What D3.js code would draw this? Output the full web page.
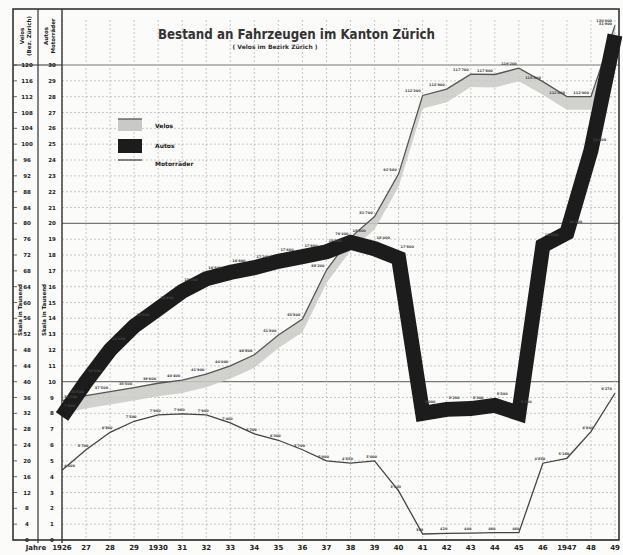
<!DOCTYPE html>
<html>
<head>
<meta charset="utf-8">
<script src="https://cdn.jsdelivr.net/npm/d3@7"></script>
<style>
  body { margin: 0; background: #fff; }
  svg { font-family: "DejaVu Sans", sans-serif; }
</style>
</head>
<body>
<div id="chart"></div>
<script>
// years on the x axis
const years = d3.range(1926, 1950);
const yearLabels = ['1926', '27', '28', '29', '1930', '31', '32', '33', '34', '35', '36', '37',
  '38', '39', '40', '41', '42', '43', '44', '45', '46', '1947', '48', '49'];

// Velos (Bezirk Zürich), in thousands, left scale
const velos = [35.2, 36.5, 37.5, 38.5, 39.6, 40.4, 41.9, 44, 46.8, 51.8, 55.8, 68.2,
  76.4, 81.7, 92.5, 112.3, 113.9, 117.7, 117.6, 119.2, 115.8, 112, 112, 130];

// Autos, in thousands, right scale
const autos = [7.8, 10.0, 12.0, 13.5, 14.6, 15.7, 16.5, 16.9, 17.2, 17.6, 17.9, 18.2,
  18.8, 18.4, 17.8, 8.0, 8.25, 8.3, 8.5, 8.0, 18.6, 19.4, 24.6, 31.9];

// Motorräder, in thousands, right scale
const motos = [4.4, 5.7, 6.8, 7.5, 7.9, 7.96, 7.9, 7.4, 6.7, 6.3, 5.7, 5.0,
  4.85, 5.0, 3.1, 0.38, 0.42, 0.44, 0.46, 0.46, 4.85, 5.16, 6.84, 9.27];

// tick labels of the two scales
const veloTicks = d3.range(0, 121, 4);
const autoTicks = d3.range(0, 31, 1);

const width = 623, height = 555;
const plotLeft = 62, plotRight = 615, plotTop = 65, plotBottom = 540;

const svg = d3.select('#chart').append('svg')
  .attr('width', width)
  .attr('height', height);

svg.append('rect').attr('width', width).attr('height', height).attr('fill', '#fbfbf9');

const x = d3.scaleLinear().domain([1926, 1949]).range([plotLeft, plotRight]);
const yV = d3.scaleLinear().domain([0, 120]).range([plotBottom, plotTop]);
const yA = d3.scaleLinear().domain([0, 30]).range([plotBottom, plotTop]);

// grid
const grid = svg.append('g');
grid.selectAll('line.h')
  .data(veloTicks)
  .enter().append('line')
  .attr('x1', plotLeft).attr('x2', 619)
  .attr('y1', d => yV(d)).attr('y2', d => yV(d))
  .attr('stroke', d => d % 40 === 0 ? '#777' : '#bbb')
  .attr('stroke-width', d => d % 40 === 0 ? 1.2 : 0.8)
  .attr('stroke-dasharray', d => d % 40 === 0 ? null : '2,2');

grid.selectAll('line.v')
  .data(years)
  .enter().append('line')
  .attr('x1', d => x(d)).attr('x2', d => x(d))
  .attr('y1', 20).attr('y2', plotBottom)
  .attr('stroke', '#bbb')
  .attr('stroke-width', 0.8)
  .attr('stroke-dasharray', '2,2');

// frame and scale columns
const frame = svg.append('g').attr('stroke', '#333').attr('fill', 'none');
frame.append('rect').attr('x', 13).attr('y', 9).attr('width', 606).attr('height', plotBottom - 9)
  .attr('stroke-width', 1.6);
frame.append('line').attr('x1', 38).attr('x2', 38).attr('y1', 9).attr('y2', 543).attr('stroke-width', 1.2);
frame.append('line').attr('x1', plotLeft).attr('x2', plotLeft).attr('y1', 9).attr('y2', 543).attr('stroke-width', 1.4);
frame.append('line').attr('x1', 13).attr('x2', plotLeft).attr('y1', plotTop).attr('y2', plotTop).attr('stroke-width', 1);

// scale labels
const scales = svg.append('g')
  .attr('font-size', 5.5)
  .attr('font-weight', 'bold')
  .attr('fill', '#222')
  .attr('text-anchor', 'middle');

scales.selectAll('text.v')
  .data(veloTicks)
  .enter().append('text')
  .attr('x', 27).attr('y', d => yV(d) + 2)
  .text(d => d);

scales.selectAll('text.a')
  .data(autoTicks)
  .enter().append('text')
  .attr('x', 52).attr('y', d => yA(d) + 2)
  .text(d => d);

svg.append('g').selectAll('line')
  .data(veloTicks)
  .enter().append('line')
  .attr('x1', 13).attr('x2', 17)
  .attr('y1', d => yV(d)).attr('y2', d => yV(d))
  .attr('stroke', '#444').attr('stroke-width', 0.8);

// column headers
function vtext(cx, cy, lines, size) {
  const t = svg.append('text')
    .attr('transform', `translate(${cx},${cy}) rotate(-90)`)
    .attr('text-anchor', 'middle')
    .attr('font-size', size)
    .attr('font-weight', 'bold')
    .attr('fill', '#222');
  lines.forEach((l, i) => {
    t.append('tspan').attr('x', 0).attr('dy', i === 0 ? 0 : size + 1).text(l);
  });
}
vtext(24, 36, ['Velos', '(Bez. Zürich)'], 5.5);
vtext(48, 36, ['Autos', 'Motorräder'], 5.5);
vtext(22, 310, ['Skala in Tausend'], 5.5);
vtext(46, 310, ['Skala in Tausend'], 5.5);

// x axis labels
svg.append('g').selectAll('text')
  .data(years)
  .enter().append('text')
  .attr('x', d => x(d)).attr('y', 550)
  .attr('text-anchor', 'middle')
  .attr('font-size', 7)
  .attr('font-weight', 'bold')
  .attr('fill', '#222')
  .text((d, i) => yearLabels[i]);

svg.append('text').attr('x', 36).attr('y', 550)
  .attr('text-anchor', 'middle').attr('font-size', 7).attr('font-weight', 'bold')
  .attr('fill', '#222').text('Jahre');

// title
svg.append('text').attr('x', 158).attr('y', 39)
  .attr('font-size', 14).attr('font-weight', 'bold')
  .attr('textLength', 277).attr('lengthAdjust', 'spacingAndGlyphs')
  .attr('fill', '#333').text('Bestand an Fahrzeugen im Kanton Zürich');
svg.append('text').attr('x', 275).attr('y', 49)
  .attr('text-anchor', 'middle').attr('font-size', 6).attr('font-weight', 'bold')
  .attr('fill', '#333').text('( Velos  im  Bezirk  Zürich )');

// velo ribbon: grey band under the line
const ribbon = d3.area()
  .x((d, i) => x(years[i]))
  .y0(d => yV(d) + 13)
  .y1(d => yV(d));
svg.append('path')
  .datum(velos)
  .attr('fill', '#c9c9c6')
  .attr('opacity', 0.85)
  .attr('d', ribbon);

const lineV = d3.line()
  .x((d, i) => x(years[i]))
  .y(d => yV(d));
svg.append('path')
  .datum(velos)
  .attr('fill', 'none')
  .attr('stroke', '#555')
  .attr('stroke-width', 1.3)
  .attr('d', lineV);

// autos: thick dark band
const lineA = d3.line()
  .x((d, i) => x(years[i]))
  .y(d => yA(d));
svg.append('path')
  .datum(autos)
  .attr('fill', 'none')
  .attr('stroke', '#1c1c1c')
  .attr('stroke-width', 15)
  .attr('stroke-linejoin', 'miter')
  .attr('d', lineA);

// motorräder: thin line
svg.append('path')
  .datum(motos)
  .attr('fill', 'none')
  .attr('stroke', '#444')
  .attr('stroke-width', 1.3)
  .attr('d', lineA);

// small value labels along the lines
const fmt = v => d3.format(',')(Math.round(v * 1000)).replace(/,/g, "'");
function valueLabels(data, y, dx, dy, anchor) {
  const last = data.length - 1;
  svg.append('g').selectAll('text')
    .data(data)
    .enter().append('text')
    .attr('x', (d, i) => {
      if (i === 0) return x(years[i]) + 2;
      if (i === last) return x(years[i]) - 3;
      return x(years[i]) + dx;
    })
    .attr('y', d => y(d) + dy)
    .attr('text-anchor', (d, i) => i === 0 ? 'start' : (i === last ? 'end' : anchor))
    .attr('font-size', 3.5)
    .attr('font-weight', 'bold')
    .attr('fill', '#444')
    .text(d => fmt(d));
}
valueLabels(velos, yV, -2, -3, 'end');
valueLabels(autos, yA, 2, -10, 'start');
valueLabels(motos, yA, -3, -3, 'middle');

// legend
const legend = svg.append('g');
legend.append('rect').attr('x', 118).attr('y', 119).attr('width', 24).attr('height', 12)
  .attr('fill', '#c9c9c6');
legend.append('line').attr('x1', 118).attr('x2', 142).attr('y1', 119).attr('y2', 119)
  .attr('stroke', '#555').attr('stroke-width', 1.3);
legend.append('rect').attr('x', 118).attr('y', 139).attr('width', 24).attr('height', 14)
  .attr('fill', '#1c1c1c');
legend.append('line').attr('x1', 118).attr('x2', 142).attr('y1', 160).attr('y2', 160)
  .attr('stroke', '#444').attr('stroke-width', 1.3);
const legendText = [['Velos', 128], ['Autos', 148], ['Motorräder', 166]];
legend.selectAll('text')
  .data(legendText)
  .enter().append('text')
  .attr('x', 155).attr('y', d => d[1])
  .attr('font-size', 6)
  .attr('font-weight', 'bold')
  .attr('fill', '#222')
  .text(d => d[0]);
</script>
</body>
</html>
